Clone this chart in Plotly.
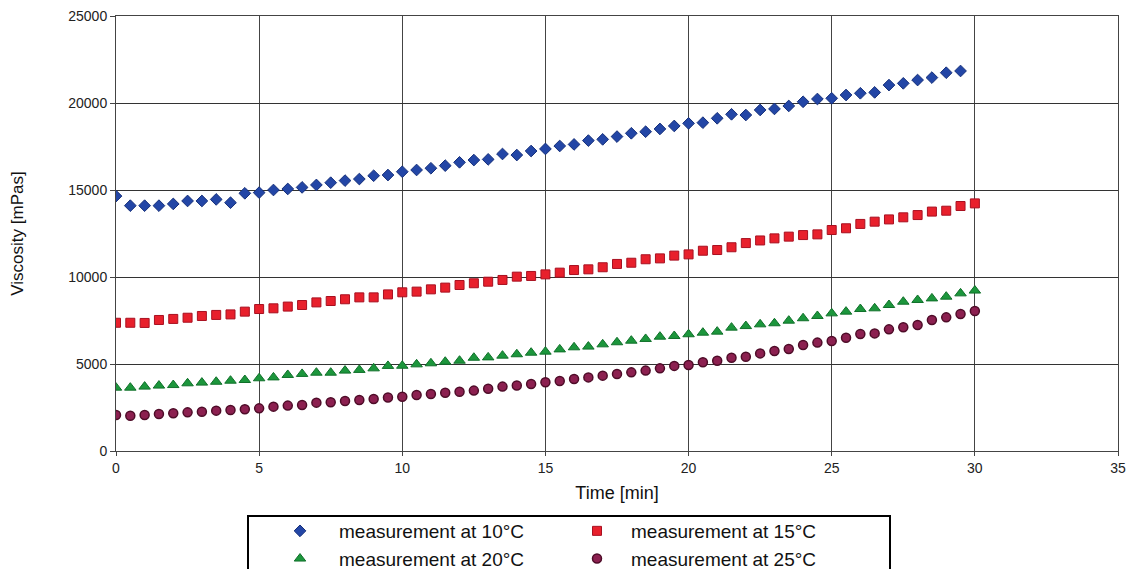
import plotly.graph_objects as go

TIME = [0, 0.5, 1, 1.5, 2, 2.5, 3, 3.5, 4, 4.5, 5, 5.5, 6, 6.5, 7, 7.5, 8, 8.5, 9, 9.5,
        10, 10.5, 11, 11.5, 12, 12.5, 13, 13.5, 14, 14.5, 15, 15.5, 16, 16.5, 17, 17.5,
        18, 18.5, 19, 19.5, 20, 20.5, 21, 21.5, 22, 22.5, 23, 23.5, 24, 24.5, 25, 25.5,
        26, 26.5, 27, 27.5, 28, 28.5, 29, 29.5, 30]

VISC_10C = [14650, 14100, 14100, 14100, 14200, 14370, 14370, 14460, 14270, 14810,
            14850, 15000, 15060, 15150, 15290, 15420, 15540, 15630, 15820, 15860,
            16050, 16150, 16250, 16400, 16590, 16720, 16760, 17070, 17010, 17240,
            17360, 17530, 17620, 17840, 17910, 18070, 18260, 18350, 18510, 18680,
            18830, 18870, 19120, 19350, 19310, 19600, 19660, 19830, 20070, 20230,
            20270, 20460, 20560, 20610, 21030, 21130, 21320, 21460, 21740, 21840]

VISC_15C = [7370, 7370, 7360, 7530, 7590, 7660, 7760, 7820, 7850, 8010,
            8160, 8200, 8300, 8390, 8540, 8620, 8720, 8830, 8830, 9000,
            9120, 9160, 9290, 9390, 9540, 9640, 9730, 9830, 10020, 10060,
            10150, 10250, 10400, 10440, 10560, 10750, 10820, 11020, 11070, 11230,
            11300, 11510, 11550, 11710, 11950, 12100, 12220, 12320, 12410, 12450,
            12700, 12800, 13050, 13180, 13310, 13430, 13560, 13760, 13810, 14080, 14230]

VISC_20C = [3640, 3640, 3700, 3760, 3790, 3890, 3930, 3980, 4040, 4080,
            4180, 4230, 4370, 4430, 4500, 4500, 4620, 4660, 4750, 4890,
            4900, 4980, 5040, 5130, 5190, 5360, 5380, 5480, 5560, 5650,
            5710, 5840, 5960, 6000, 6130, 6250, 6340, 6440, 6570, 6610,
            6710, 6800, 6860, 7090, 7180, 7280, 7340, 7490, 7630, 7760,
            7910, 8010, 8160, 8200, 8390, 8580, 8680, 8770, 8870, 9060, 9220]

VISC_25C = [2070, 2030, 2070, 2130, 2170, 2220, 2260, 2320, 2360, 2400,
            2450, 2550, 2610, 2640, 2780, 2800, 2870, 2930, 2990, 3070,
            3120, 3220, 3280, 3350, 3410, 3470, 3580, 3700, 3760, 3850,
            3950, 4020, 4140, 4230, 4330, 4430, 4520, 4620, 4750, 4890,
            4940, 5100, 5190, 5360, 5420, 5610, 5750, 5860, 6090, 6230,
            6320, 6510, 6720, 6760, 6990, 7110, 7240, 7530, 7680, 7870, 8050]

NAMES = ["measurement at 10°C", "measurement at 15°C",
         "measurement at 20°C", "measurement at 25°C"]

X_TICKS = [0, 5, 10, 15, 20, 25, 30, 35]
Y_TICKS = [0, 5000, 10000, 15000, 20000, 25000]

FONT = "Arial, 'Liberation Sans', sans-serif"

fig = go.Figure()
fig.add_trace(go.Scatter(
    x=TIME[:len(VISC_10C)], y=VISC_10C, mode="markers", name=NAMES[0], legend="legend",
    marker=dict(symbol="diamond", size=9, color="#2346a6", line=dict(color="#16307a", width=1))))
fig.add_trace(go.Scatter(
    x=TIME, y=VISC_20C, mode="markers", name=NAMES[2], legend="legend",
    marker=dict(symbol="triangle-up", size=10, color="#1c963c", line=dict(color="#10702a", width=1))))
fig.add_trace(go.Scatter(
    x=TIME, y=VISC_15C, mode="markers", name=NAMES[1], legend="legend2",
    marker=dict(symbol="square", size=9, color="#e8202c", line=dict(color="#a81020", width=1))))
fig.add_trace(go.Scatter(
    x=TIME, y=VISC_25C, mode="markers", name=NAMES[3], legend="legend2",
    marker=dict(symbol="circle", size=9, color="#8c2050", line=dict(color="#4e0c28", width=1.5))))

# page layout (browser adds an 8px body margin)
W, H = 1135, 569
OFF = 8
PL, PR, PT, PB = 116, 1118, 16, 451
L, T = PL - OFF, PT - OFF
R, B = W - (PR - OFF), H - (PB - OFF)
pw = PR - PL
ph = PB - PT

def px_x(px):
    return (px - PL) / pw

def px_y(py):
    return (PB - py) / ph

legend_common = dict(font=dict(family=FONT, size=19, color="#111"), bgcolor="rgba(0,0,0,0)",
                     borderwidth=0, xanchor="left", yanchor="top", tracegroupgap=0,
                     orientation="v")

fig.update_layout(
    width=W, height=H,
    margin=dict(l=L, r=R, t=T, b=B, autoexpand=False),
    paper_bgcolor="white", plot_bgcolor="white",
    font=dict(family=FONT, size=14, color="#111"),
    showlegend=True,
    legend=dict(x=px_x(261), y=px_y(512), itemwidth=68, **legend_common),
    legend2=dict(x=px_x(563), y=px_y(512), itemwidth=58, **legend_common),
    xaxis=dict(
        range=[0, 35], tickvals=X_TICKS, ticktext=[str(v) for v in X_TICKS],
        showgrid=True, gridcolor="#444", gridwidth=1,
        showline=True, linecolor="#444", linewidth=1, mirror=True,
        ticks="outside", ticklen=4, tickcolor="#444",
        zeroline=False, ticklabeloverflow="allow",
        tickfont=dict(family=FONT, size=14, color="#222"),
        title=dict(text="Time [min]", font=dict(family=FONT, size=18, color="#111"), standoff=11),
    ),
    yaxis=dict(
        range=[0, 25000], tickvals=Y_TICKS, ticktext=[str(v) for v in Y_TICKS],
        showgrid=True, gridcolor="#333", gridwidth=1,
        showline=True, linecolor="#444", linewidth=1, mirror=True,
        ticks="outside", ticklen=5, tickcolor="#444",
        zeroline=False, ticklabeloverflow="allow",
        tickfont=dict(family=FONT, size=14, color="#222"),
        title=dict(text="Viscosity [mPas]", font=dict(family=FONT, size=17, color="#111"), standoff=56),
    ),
    shapes=[dict(type="rect", xref="paper", yref="paper",
                 x0=px_x(248), x1=px_x(890), y0=px_y(516), y1=px_y(620),
                 line=dict(color="black", width=2), fillcolor="rgba(0,0,0,0)")],
)

fig.write_html("out.html")
